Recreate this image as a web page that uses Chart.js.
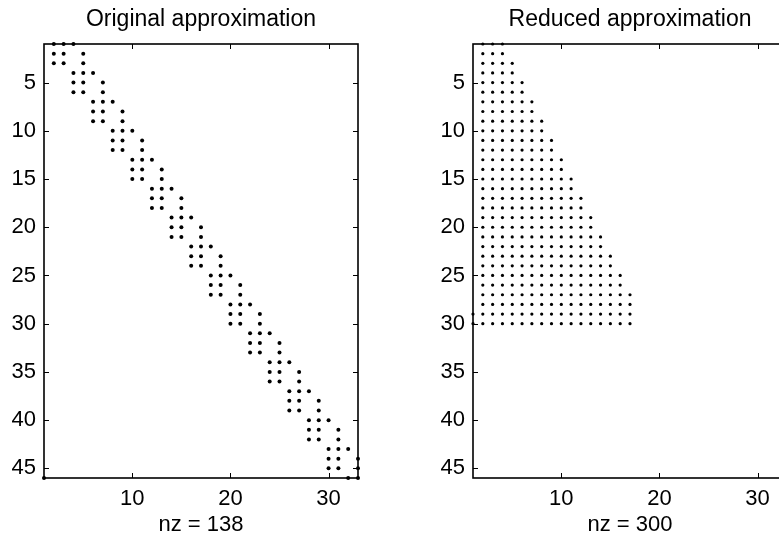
<!DOCTYPE html>
<html><head><meta charset="utf-8">
<script src="https://cdn.jsdelivr.net/npm/chart.js@4/dist/chart.umd.min.js"></script>
<style>
html,body{margin:0;padding:0;background:#fff;overflow:hidden;width:779px;height:540px;}
#wrapL{position:absolute;left:0;top:0;width:402px;height:540px;}
#wrapR{position:absolute;left:429px;top:0;width:402px;height:540px;}
</style></head><body>
<div id="wrapL"><canvas id="cL" width="402" height="540"></canvas></div>
<div id="wrapR"><canvas id="cR" width="402" height="540"></canvas></div>
<script>
// ---- data ----
const titles = ['Original approximation', 'Reduced approximation'];
const xAxisLabels = ['nz = 138', 'nz = 300'];
const xTickValues = [10, 20, 30];
const yTickValues = [5, 10, 15, 20, 25, 30, 35, 40, 45];
const rowRange = [1, 46];
const colRange = [1, 33];

// Original approximation: nonzero column indices of each row (rows 1..46)
const originalRows = [
  [2,3,4],[2,3,5],[2,3,5],
  [4,5,6],[4,5,7],[4,5,7],
  [6,7,8],[6,7,9],[6,7,9],
  [8,9,10],[8,9,11],[8,9,11],
  [10,11,12],[10,11,13],[10,11,13],
  [12,13,14],[12,13,15],[12,13,15],
  [14,15,16],[14,15,17],[14,15,17],
  [16,17,18],[16,17,19],[16,17,19],
  [18,19,20],[18,19,21],[18,19,21],
  [20,21,22],[20,21,23],[20,21,23],
  [22,23,24],[22,23,25],[22,23,25],
  [24,25,26],[24,25,27],[24,25,27],
  [26,27,28],[26,27,29],[26,27,29],
  [28,29,30],[28,29,31],[28,29,31],
  [30,31,32],[30,31,33],[30,31,33],
  [1,32,33]
];

// Reduced approximation: each row (1..30) is filled from first to last column
const reducedFirstCol = [2,2,2,2,2,2,2,2,2,2,2,2,2,2,2,2,2,2,2,2,2,2,2,2,2,2,2,2,1,1];
const reducedLastCol  = [4,4,5,5,6,6,7,7,8,8,9,9,10,10,11,11,12,12,13,13,14,14,15,15,16,16,17,17,17,17];

// ---- build point lists ----
const originalPoints = [];
originalRows.forEach((cols, i) => cols.forEach(c => originalPoints.push({x: c, y: i + 1})));
const reducedPoints = [];
reducedFirstCol.forEach((f, i) => { for (let c = f; c <= reducedLastCol[i]; c++) reducedPoints.push({x: c, y: i + 1}); });

const FONT = 'Liberation Sans, Arial, Helvetica, sans-serif';

const boxPlugin = {
  id: 'matlabBox',
  afterDatasetsDraw(chart) {
    const {ctx, chartArea: a, scales: {x, y}} = chart;
    ctx.save();
    ctx.strokeStyle = '#000';
    ctx.lineWidth = 1.6;
    ctx.strokeRect(a.left, a.top, a.right - a.left, a.bottom - a.top);
    ctx.lineWidth = 1;
    ctx.beginPath();
    const tl = 5;
    x.ticks.forEach(t => {
      const px = Math.round(x.getPixelForValue(t.value)) + 0.5;
      ctx.moveTo(px, a.bottom); ctx.lineTo(px, a.bottom - tl);
      ctx.moveTo(px, a.top); ctx.lineTo(px, a.top + tl);
    });
    y.ticks.forEach(t => {
      const py = Math.round(y.getPixelForValue(t.value)) + 0.5;
      ctx.moveTo(a.left, py); ctx.lineTo(a.left + tl, py);
      ctx.moveTo(a.right, py); ctx.lineTo(a.right - tl, py);
    });
    ctx.stroke();
    ctx.restore();
  }
};

function makeChart(id, points, title, xLabel, radius) {
  return new Chart(document.getElementById(id), {
    type: 'scatter',
    data: { datasets: [{
      data: points, pointRadius: radius, pointHoverRadius: radius,
      backgroundColor: '#000', borderColor: '#000', borderWidth: 0, clip: false
    }]},
    options: {
      responsive: false, animation: false, devicePixelRatio: 1,
      layout: { padding: 0 },
      plugins: {
        legend: { display: false }, tooltip: { enabled: false },
        title: { display: true, text: title, color: '#000',
          font: { family: FONT, size: 23, weight: 'normal', lineHeight: 1.2 },
          padding: { top: 6, bottom: 10.4 } }
      },
      scales: {
        x: {
          type: 'linear', position: 'bottom', min: colRange[0], max: colRange[1],
          afterBuildTicks: s => { s.ticks = xTickValues.map(v => ({value: v})); },
          afterFit: s => { s.height = 62; },
          grid: { display: false, drawTicks: false }, border: { display: false },
          ticks: { color: '#000', font: { family: FONT, size: 22 }, padding: 8, maxRotation: 0, autoSkip: false },
          title: { display: true, text: xLabel, color: '#000', font: { family: FONT, size: 22, lineHeight: 1.2 }, padding: { top: 0, bottom: 2 } }
        },
        y: {
          type: 'linear', position: 'left', reverse: true, min: rowRange[0], max: rowRange[1],
          afterBuildTicks: s => { s.ticks = yTickValues.map(v => ({value: v})); },
          afterFit: s => { s.width = 44; },
          grid: { display: false, drawTicks: false }, border: { display: false },
          ticks: { color: '#000', font: { family: FONT, size: 22 }, padding: 8, autoSkip: false }
        },
        y2: {
          type: 'linear', position: 'right', display: true, reverse: true, min: rowRange[0], max: rowRange[1],
          afterFit: s => { s.width = 44; },
          grid: { display: false, drawTicks: false }, border: { display: false },
          ticks: { display: false }
        }
      }
    },
    plugins: [boxPlugin]
  });
}

makeChart('cL', originalPoints, titles[0], xAxisLabels[0], 2);
makeChart('cR', reducedPoints, titles[1], xAxisLabels[1], 1.6);
</script>
</body></html>
